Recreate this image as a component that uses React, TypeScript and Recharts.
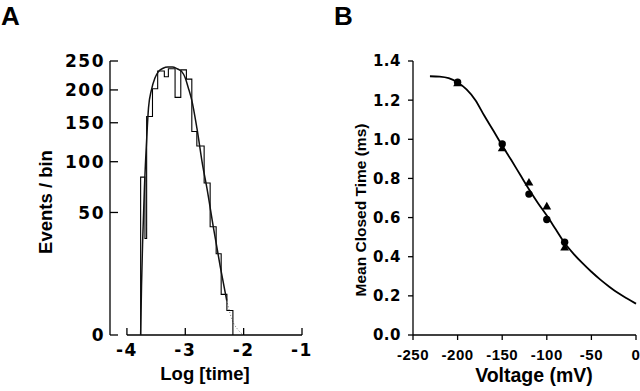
import { ComposedChart, Line, LineChart, ReferenceLine, Scatter, XAxis, YAxis } from "recharts";

// Panel A: dwell-time histogram (log-binned, sqrt count axis)
const binEdges = [-3.765, -3.691, -3.662, -3.562, -3.473, -3.359, -3.29, -3.175, -3.077, -2.981, -2.888, -2.802, -2.677, -2.574, -2.471, -2.385, -2.287, -2.184];
const binCounts = [83, 31, 159, 202, 232, 222, 236, 188, 234, 218, 138, 119, 77, 39, 22, 5.5, 2];
const fitLogT = [-3.765, -3.75, -3.73, -3.7, -3.66, -3.63, -3.58, -3.52, -3.46, -3.38, -3.3, -3.22, -3.14, -3.06, -3.0, -2.95, -2.89, -2.8, -2.7, -2.63, -2.52, -2.4, -2.29];
const fitCounts = [0, 8, 30, 72, 130, 172, 200, 220, 231, 237, 239, 239, 236, 231, 220, 204, 184, 142, 95, 72, 39, 15.5, 4];
const tailLogT = [-2.29, -2.2, -2.1, -2.0];
const tailCounts = [4, 0.8, 0.1, 0];
const logTicks = [-4, -3, -2, -1];
const eventTicks = [0, 50, 100, 150, 200, 250];

// Panel B: mean closed time vs voltage
const voltage = [-200, -150, -120, -100, -80];
const closedCircle = [1.292, 0.976, 0.72, 0.59, 0.474];
const closedTriangle = [1.284, 0.952, 0.777, 0.655, 0.445];
const curveV = [-231, -220, -210, -200, -190, -180, -170, -160, -150, -140, -130, -120, -110, -100, -90, -80, -70, -60, -50, -40, -30, -20, -10, 0];
const curveT = [1.322, 1.32, 1.312, 1.29, 1.255, 1.2, 1.12, 1.045, 0.968, 0.895, 0.82, 0.745, 0.675, 0.61, 0.54, 0.47, 0.415, 0.367, 0.323, 0.283, 0.247, 0.214, 0.186, 0.16];
const voltTicks = [-250, -200, -150, -100, -50, 0];
const timeTicks = [0, 0.2, 0.4, 0.6, 0.8, 1.0, 1.2, 1.4];

const histData = [
  { x: binEdges[0], y: 0 },
  ...binCounts.map((c, i) => ({ x: binEdges[i], y: c })),
  { x: binEdges[binEdges.length - 1], y: 0 },
];
const fitData = fitLogT.map((x, i) => ({ x, y: fitCounts[i] }));
const tailData = tailLogT.map((x, i) => ({ x, y: tailCounts[i] }));
const curveData = curveV.map((v, i) => ({ v, t: curveT[i] }));
const circleData = voltage.map((v, i) => ({ v, t: closedCircle[i] }));
const triangleData = voltage.map((v, i) => ({ v, t: closedTriangle[i] }));

const SANS = "'Liberation Sans', Arial, sans-serif";
const WIDE = "'DejaVu Sans', sans-serif";

function tickText(side: "left" | "bottom", size: number, family: string, spacing: number, fmt?: (v: number) => string) {
  return (p: any) => {
    const v = p.payload.value as number;
    return (
      <text
        x={p.x}
        y={p.y}
        dy={side === "left" ? "0.36em" : "0.71em"}
        textAnchor={side === "left" ? "end" : "middle"}
        fontFamily={family}
        fontWeight="bold"
        fontSize={size}
        fill="#000"
        style={{ letterSpacing: spacing }}
      >
        {fmt ? fmt(v) : String(v)}
      </text>
    );
  };
}

function Dot(p: any) {
  return <circle cx={p.cx} cy={p.cy} r={3.7} fill="#000" />;
}

function Tri(p: any) {
  const { cx, cy } = p;
  return <polygon points={`${cx},${cy - 5} ${cx - 4.4},${cy + 2.6} ${cx + 4.4},${cy + 2.6}`} fill="#000" />;
}

export default function App() {
  return (
    <div style={{ position: "absolute", left: 0, top: 0, width: 640, height: 391, background: "#fff" }}>
      <div style={{ position: "absolute", left: 0, top: 0 }}>
        <LineChart width={320} height={391} margin={{ top: 61, right: 18, bottom: 0, left: 0 }}>
          <XAxis
            type="number"
            dataKey="x"
            domain={[-4.29, -1]}
            ticks={logTicks}
            allowDataOverflow
            axisLine={false}
            tickSize={-7}
            tickMargin={16}
            height={56}
            tickLine={{ stroke: "#000", strokeWidth: 1.3 }}
            tick={tickText("bottom", 17, WIDE, 1.5)}
          />
          <YAxis
            type="number"
            scale="sqrt"
            domain={[0, 250]}
            ticks={eventTicks}
            width={110}
            tickSize={-8}
            tickMargin={13}
            axisLine={{ stroke: "#000", strokeWidth: 1.3 }}
            tickLine={{ stroke: "#000", strokeWidth: 1.3 }}
            tick={tickText("left", 17, WIDE, 1.5)}
          />
          <ReferenceLine
            segment={[{ x: -4, y: 0 }, { x: -1, y: 0 }]}
            stroke="#000"
            strokeWidth={1.3}
            ifOverflow="visible"
          />
          <Line data={tailData} dataKey="y" type="monotone" stroke="#777" strokeWidth={1} strokeDasharray="1 2" dot={false} isAnimationActive={false} />
          <Line data={histData} dataKey="y" type="stepAfter" stroke="#000" strokeWidth={1.1} dot={false} isAnimationActive={false} />
          <Line data={fitData} dataKey="y" type="monotone" stroke="#111" strokeWidth={1.5} dot={false} isAnimationActive={false} />
        </LineChart>
      </div>
      <div style={{ position: "absolute", left: 320, top: 0 }}>
        <ComposedChart width={320} height={391} margin={{ top: 61, right: 4, bottom: 0, left: 0 }}>
          <XAxis
            type="number"
            dataKey="v"
            domain={[-250, 0]}
            ticks={voltTicks}
            height={56}
            tickSize={5}
            tickMargin={9}
            axisLine={{ stroke: "#000", strokeWidth: 1.3 }}
            tickLine={{ stroke: "#000", strokeWidth: 1.3 }}
            tick={tickText("bottom", 15, SANS, 0.5)}
          />
          <YAxis
            type="number"
            dataKey="t"
            domain={[0, 1.4]}
            ticks={timeTicks}
            width={93}
            tickSize={5}
            tickMargin={7}
            axisLine={{ stroke: "#000", strokeWidth: 1.3 }}
            tickLine={{ stroke: "#000", strokeWidth: 1.3 }}
            tick={tickText("left", 15, WIDE, 0.5, (v) => v.toFixed(1))}
          />
          <Line data={curveData} dataKey="t" type="monotone" stroke="#000" strokeWidth={1.8} dot={false} isAnimationActive={false} />
          <Scatter data={circleData} dataKey="t" shape={Dot} isAnimationActive={false} />
          <Scatter data={triangleData} dataKey="t" shape={Tri} isAnimationActive={false} />
        </ComposedChart>
      </div>
      <svg width={640} height={391} style={{ position: "absolute", left: 0, top: 0, pointerEvents: "none" }}>
        <g fontFamily={SANS} fontWeight="bold" fill="#000">
          <text x={1} y={25} fontSize={26}>A</text>
          <text x={334} y={25} fontSize={26}>B</text>
          <text transform="translate(52,202) rotate(-90)" textAnchor="middle" fontSize={18.5}>Events / bin</text>
          <text x={205} y={380} textAnchor="middle" fontSize={18.5}>Log [time]</text>
          <text transform="translate(366,210) rotate(-90)" textAnchor="middle" fontSize={15.5}>Mean Closed Time (ms)</text>
          <text x={534} y={382} textAnchor="middle" fontSize={19.5}>Voltage (mV)</text>
        </g>
      </svg>
    </div>
  );
}
